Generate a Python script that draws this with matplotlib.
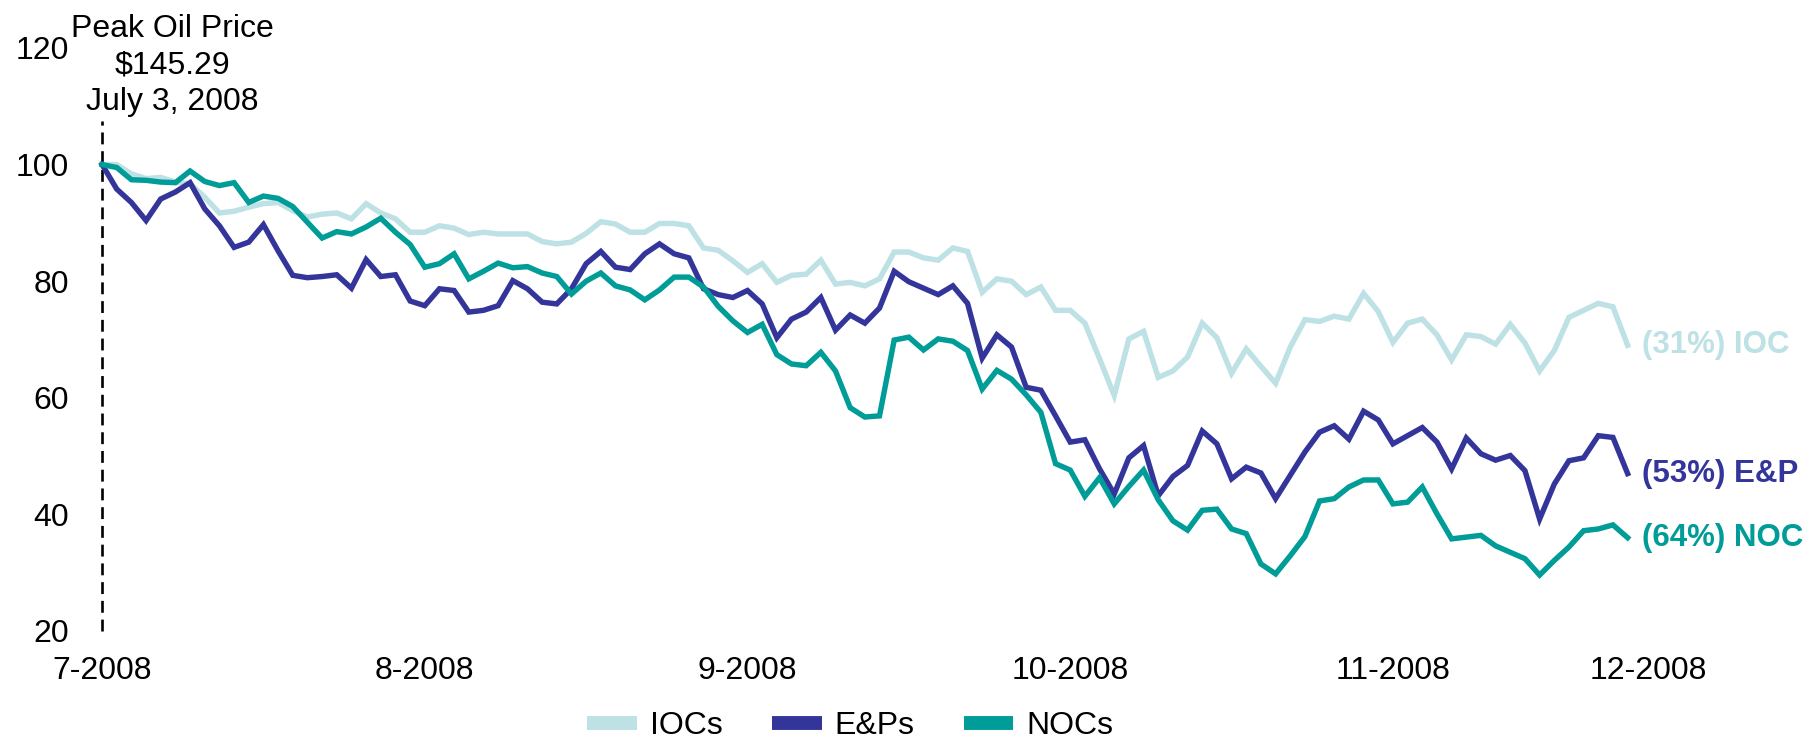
import matplotlib.pyplot as plt
from matplotlib.lines import Line2D

plt.rcParams['font.family'] = ['Liberation Sans', 'DejaVu Sans']

# indexed share prices, 100 = July 3, 2008 (one point per trading day)
ioc = [100, 100, 98.4, 97.6, 97.8, 97.0, 96.7, 94.4, 91.7, 92.0,
       92.7, 93.3, 93.5, 92.1, 91.0, 91.5, 91.7, 90.7, 93.3, 91.7,
       90.7, 88.4, 88.4, 89.5, 89.1, 88.0, 88.4, 88.1, 88.1, 88.1,
       86.8, 86.4, 86.7, 88.2, 90.2, 89.8, 88.4, 88.4, 89.9, 89.9,
       89.5, 85.7, 85.3, 83.5, 81.5, 83.0, 79.8, 81.0, 81.2, 83.6,
       79.5, 79.8, 79.2, 80.4, 85.0, 85.0, 84.0, 83.6, 85.7, 85.1,
       78.1, 80.4, 80.0, 77.7, 79.0, 75.0, 75.0, 72.8, 66.7, 60.4,
       70.1, 71.4, 63.5, 64.6, 67.0, 72.8, 70.3, 64.2, 68.4, 65.4,
       62.5, 68.7, 73.4, 73.1, 74.0, 73.5, 77.9, 74.8, 69.5, 72.8,
       73.5, 70.8, 66.5, 70.8, 70.5, 69.2, 72.6, 69.4, 64.6, 68.1,
       73.8, 75.0, 76.2, 75.6, 69.0]
enp = [100, 95.8, 93.5, 90.4, 94.1, 95.3, 96.9, 92.4, 89.5, 85.8,
       86.7, 89.7, 85.2, 81.0, 80.6, 80.8, 81.1, 78.8, 83.7, 80.8,
       81.1, 76.6, 75.8, 78.7, 78.4, 74.7, 75.0, 75.8, 80.1, 78.7,
       76.4, 76.1, 78.7, 83.0, 85.1, 82.4, 82.0, 84.7, 86.4, 84.7,
       84.0, 78.7, 77.7, 77.2, 78.4, 76.1, 70.3, 73.5, 74.7, 77.2,
       71.6, 74.2, 72.8, 75.4, 81.7, 79.9, 78.8, 77.7, 79.2, 76.2,
       66.8, 70.8, 68.7, 61.8, 61.3, 56.9, 52.4, 52.8, 47.8, 43.5,
       49.7, 51.8, 43.2, 46.5, 48.4, 54.3, 52.1, 46.1, 48.1, 47.1,
       42.7, 46.7, 50.7, 54.1, 55.2, 52.9, 57.7, 56.2, 52.1, 53.5,
       54.9, 52.4, 47.8, 53.1, 50.4, 49.3, 50.1, 47.5, 39.2, 45.2,
       49.2, 49.7, 53.5, 53.2, 47.0]
noc = [100, 99.5, 97.4, 97.3, 97.0, 96.9, 98.9, 97.1, 96.4, 96.9,
       93.5, 94.6, 94.2, 92.8, 90.1, 87.4, 88.5, 88.1, 89.3, 90.8,
       88.4, 86.3, 82.4, 83.0, 84.7, 80.4, 81.7, 83.1, 82.3, 82.5,
       81.4, 80.8, 77.8, 80.0, 81.4, 79.2, 78.5, 76.8, 78.5, 80.7,
       80.7, 79.0, 75.7, 73.2, 71.2, 72.6, 67.4, 65.8, 65.5, 67.8,
       64.6, 58.3, 56.7, 56.9, 69.9, 70.4, 68.2, 70.1, 69.7, 68.1,
       61.5, 64.7, 63.2, 60.5, 57.5, 48.7, 47.6, 43.1, 46.3, 41.8,
       44.8, 47.6, 42.5, 38.9, 37.3, 40.7, 40.9, 37.5, 36.7, 31.5,
       29.8, 32.9, 36.2, 42.3, 42.7, 44.7, 45.9, 45.9, 41.8, 42.1,
       44.7, 40.1, 35.8, 36.1, 36.4, 34.6, 33.5, 32.4, 29.6, 32.1,
       34.4, 37.2, 37.5, 38.2, 36.0]

names = ['IOCs', 'E&Ps', 'NOCs']
end_labels = ['(31%) IOC', '(53%) E&P', '(64%) NOC']
month_labels = ['7-2008', '8-2008', '9-2008', '10-2008', '11-2008', '12-2008']
colors = ['#bde1e4', '#34359a', '#009c97']

fs = 23
fig = plt.figure(figsize=(18.13, 7.44), dpi=100)
ax = fig.add_axes([0.0563, 0.1519, 0.890, 0.7836])

x = list(range(len(ioc)))
for ys, c, lab in zip([ioc, enp, noc], colors, end_labels):
    ax.plot(x, ys, color=c, lw=3.9, solid_joinstyle='miter', clip_on=False)
    ax.text(x[-1] + 1.0, ys[-1], lab, color=c, fontsize=fs - 0.5,
            fontweight='bold', va='center', ha='left')

# peak oil marker
ax.plot([0, 0], [20, 107.4], color='black', lw=1.9, ls=(0, (4.5, 2.6)),
        clip_on=False, zorder=0)
ax.text(4.8, 117, 'Peak Oil Price\n$145.29\nJuly 3, 2008', fontsize=fs,
        ha='center', va='center', linespacing=1.3)

ax.set_xlim(0, 110)
ax.set_ylim(20, 120)
ax.set_yticks([20, 40, 60, 80, 100, 120])
ax.set_xticks([0, 22, 44, 66, 88, 105.4])
ax.set_xticklabels(month_labels)
ax.tick_params(length=0, labelsize=fs)
ax.tick_params(axis='y', pad=24)
ax.tick_params(axis='x', pad=18)
for s in ax.spines.values():
    s.set_visible(False)

handles = [Line2D([], [], color=c, lw=10, solid_capstyle='butt') for c in colors]
fig.legend(handles, names, loc='center', bbox_to_anchor=(0.469, 0.024),
           ncol=3, frameon=False, fontsize=fs, handlelength=1.55,
           handletextpad=0.4, columnspacing=1.55)

fig.savefig('out.png', dpi=100)
